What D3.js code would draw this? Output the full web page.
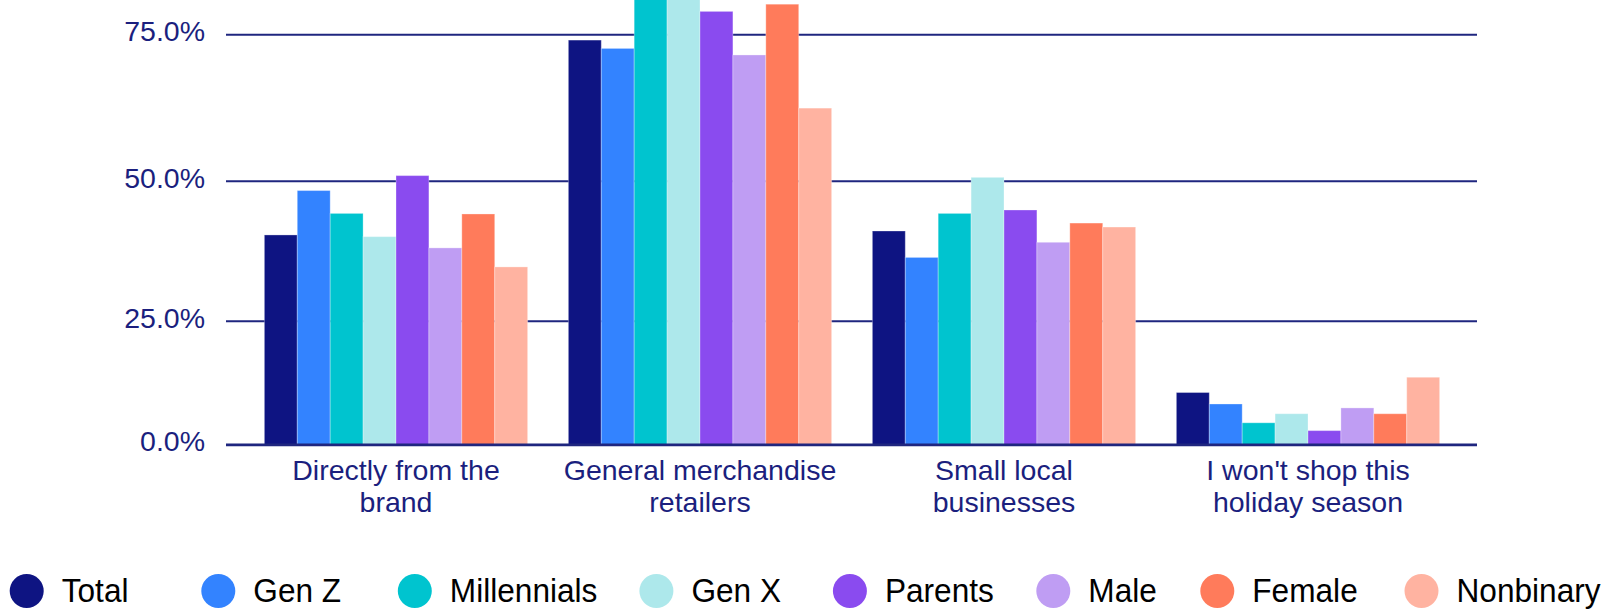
<!DOCTYPE html>
<html>
<head>
<meta charset="utf-8">
<script src="https://cdn.jsdelivr.net/npm/d3@7"></script>
<style>
  html, body { margin: 0; padding: 0; background: #ffffff; }
  svg { display: block; font-family: "Liberation Sans", Arial, Helvetica, sans-serif; }
</style>
</head>
<body>
<svg id="chart" width="1623" height="609"></svg>
<script>
// Where shoppers plan to buy, by audience group (% of respondents)
const categories = [
  ["Directly from the", "brand"],
  ["General merchandise", "retailers"],
  ["Small local", "businesses"],
  ["I won't shop this", "holiday season"]
];
const seriesNames = ["Total", "Gen Z", "Millennials", "Gen X", "Parents", "Male", "Female", "Nonbinary"];

const total       = [40.5, 74.0, 41.2, 11.3];
const genZ        = [48.3, 72.6, 36.5, 9.0];
const millennials = [44.3, 83.0, 44.3, 5.1];
const genX        = [40.2, 82.0, 50.6, 7.0];
const parents     = [50.9, 78.8, 44.9, 3.4];
const male        = [38.2, 71.5, 39.2, 8.2];
const female      = [44.2, 80.0, 42.6, 7.0];
const nonbinary   = [34.8, 62.5, 41.9, 14.3];

const yTicks = [0, 25, 50, 75];

const seriesValues = [total, genZ, millennials, genX, parents, male, female, nonbinary];
const colors = ["#0e1482", "#3383ff", "#00c4cf", "#ade8eb", "#8a4bef", "#bf9df3", "#ff7b5b", "#ffb3a1"];

const navy = "#1b1f7e";
const svg = d3.select("#chart");

// scales
const x0 = d3.scaleBand()
  .domain(d3.range(categories.length))
  .range([244, 1460])
  .paddingInner(0.134)
  .paddingOuter(0.067);

const x1 = d3.scaleBand()
  .domain(d3.range(seriesNames.length))
  .range([0, x0.bandwidth()])
  .padding(0);

const y = d3.scalePow()
  .exponent(1.09)
  .domain([0, 80.7])
  .range([444.7, 0]);

const gridLeft = 226, gridRight = 1477;

// horizontal grid lines and value axis
const yAxis = svg.append("g")
  .attr("transform", `translate(${gridLeft},0)`)
  .call(d3.axisLeft(y)
    .tickValues(yTicks)
    .tickSize(-(gridRight - gridLeft))
    .tickPadding(21)
    .tickFormat(d => d3.format(".1f")(d) + "%"));
yAxis.select(".domain").remove();
yAxis.selectAll(".tick line")
  .attr("stroke", "#1f267f")
  .attr("stroke-width", 2);
yAxis.selectAll(".tick text")
  .attr("fill", navy)
  .attr("font-size", 28.5)
  .attr("dy", "0.22em");

// bars
const groups = svg.append("g")
  .selectAll("g")
  .data(categories)
  .join("g")
  .attr("transform", (d, i) => `translate(${x0(i)},0)`);

groups.selectAll("rect")
  .data((d, i) => seriesValues.map((vals, s) => ({ s, v: vals[i] })))
  .join("rect")
  .attr("x", d => x1(d.s))
  .attr("width", x1.bandwidth())
  .attr("y", d => y(d.v))
  .attr("height", d => y(0) - y(d.v))
  .attr("fill", d => colors[d.s])
  .attr("stroke", "rgba(255,255,255,0.3)")
  .attr("stroke-width", 1);

// baseline drawn over the bars' bottom edge
svg.append("line")
  .attr("x1", gridLeft).attr("x2", gridRight)
  .attr("y1", y(0)).attr("y2", y(0))
  .attr("stroke", "#1f267f")
  .attr("stroke-width", 2.5);

// category labels (two lines each)
const catLabels = svg.append("g")
  .selectAll("text")
  .data(categories)
  .join("text")
  .attr("x", (d, i) => x0(i) + x0.bandwidth() / 2)
  .attr("y", 480)
  .attr("text-anchor", "middle")
  .attr("fill", navy)
  .attr("font-size", 28.5);
catLabels.selectAll("tspan")
  .data(d => d)
  .join("tspan")
  .attr("x", function () { return this.parentNode.getAttribute("x"); })
  .attr("dy", (d, i) => i === 0 ? 0 : 32)
  .text(d => d);

// legend
const legendX = [26.7, 218.3, 414.8, 656.4, 849.9, 1053.3, 1217.3, 1421.5];
const legend = svg.append("g")
  .selectAll("g")
  .data(seriesNames)
  .join("g")
  .attr("transform", (d, i) => `translate(${legendX[i]},591)`);

legend.append("circle")
  .attr("r", 17)
  .attr("fill", (d, i) => colors[i]);

legend.append("text")
  .attr("transform", "translate(35,10.5) scale(0.93,1)")
  .attr("font-size", 34)
  .attr("fill", "#000000")
  .text(d => d);
</script>
</body>
</html>
